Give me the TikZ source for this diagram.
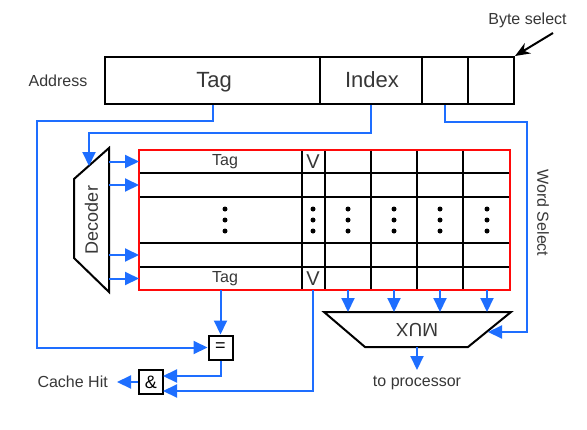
\documentclass[tikz,border=0pt]{standalone}
\usepackage{fontspec}
\setmainfont{Liberation Sans}
\usetikzlibrary{arrows.meta,calc}
\definecolor{wire}{RGB}{30,110,255}
\definecolor{arrred}{RGB}{255,10,10}
\definecolor{txt}{RGB}{55,55,55}
\begin{document}
\begin{tikzpicture}[x=1pt,y=-1pt,
  wirestyle/.style={draw=wire, line width=2pt},
  warrow/.style={wirestyle, -{Triangle[length=14pt,width=13pt]}},
  field/.style={draw, line width=2pt, minimum height=47pt, inner sep=0pt},
  fieldtext/.style={font=\fontsize{22}{26}\selectfont, text=txt, inner sep=0pt, anchor=base},
  lbl/.style={font=\fontsize{16}{19}\selectfont, text=txt, inner sep=0pt},
  cell/.style={font=\fontsize{16}{19}\selectfont, text=txt, inner sep=0pt},
  vcell/.style={font=\fontsize{20}{23}\selectfont, text=txt, inner sep=0pt},
  gridline/.style={draw=black, line width=2pt},
  gate/.style={draw, line width=2pt, minimum size=24pt, inner sep=0pt, fill=white, font=\fontsize{18}{21}\selectfont, text=black},
  shapeline/.style={draw=black, line width=2pt, line join=miter}
]
\useasboundingbox (0,0) rectangle (587,429);

% address
\node[field, minimum width=215pt] (tag) at (212.5,80.5) {};
\node[field, minimum width=102pt] (index) at (371,80.5) {};
\node[field, minimum width=46pt] (word) at (445,80.5) {};
\node[field, minimum width=46pt] (byte) at (491,80.5) {};
\node[fieldtext] (tagtxt) at (214,87.5) {Tag};
\node[fieldtext] (indextxt) at (372,87.5) {Index};
\node[lbl, anchor=base] (addr) at (58,86) {Address};
\node[lbl] (bsel) at (527.5,20) {Byte select};
\coordinate (bs0) at (553,33);
\draw[line width=2pt, -{Stealth[length=15pt,width=12pt]}] (bs0) -- (byte.north east);

% cache array
\foreach \y in {173,197,243,267} \draw[gridline] (139,\y) -- (510,\y);
\foreach \x in {302,325,371,417,463} \draw[gridline] (\x,150) -- (\x,290);
\draw[draw=arrred, line width=2pt] (139,150) rectangle (510,290);
\foreach \x in {225,313,348,394,440,487}
  \foreach \y in {209,220,231} \fill (\x,\y) circle (2.5pt);
\node[cell] (tagtop) at (225,161.5) {Tag};
\node[vcell] (vtop) at (313,161.5) {V};
\node[cell] (tagbot) at (225,278.5) {Tag};
\node[vcell] (vbot) at (313,278.5) {V};

% decoder
\draw[shapeline, fill=white] (109,148) -- (109,292) -- (74,258) -- (74,179) -- cycle;
\node[rotate=90, font=\fontsize{18}{21}\selectfont, text=txt, inner sep=0pt] (dec) at (91.5,220) {Decoder};
\foreach \y/\n in {161.5/1,185/2,255/4,278.5/5} {
  \coordinate (d\n) at (109,\y);
  \coordinate (r\n) at (139,\y);
  \draw[warrow] (d\n) -- (r\n);
}
\coordinate (decin) at (89,166);
\draw[warrow] (index.south) |- (89,133) -- (decin);

% comparator and and-gate
\node[gate] (eq) at (220.5,347.5) {=};
\node[gate] (amp) at (151,382) {\&};
\coordinate (tagout) at (220.5,290);
\coordinate (vout) at (313,290);
\draw[warrow] (tagout) -- (eq.north);
\draw[warrow] (tag.south) |- (37,121) |- (eq.west);
\coordinate (ampin1) at (163,376);
\coordinate (ampin2) at (163,391);
\draw[warrow] (eq.south) |- (ampin1);
\draw[warrow] (vout) |- (ampin2);
\node[lbl, anchor=east] (hit) at (108,382) {Cache Hit};
\draw[warrow] (amp.west) -- ($(hit.east)+(9,0)$);

% mux
\draw[shapeline] (324,312) -- (511,312) -- (468,347) -- (365,347) -- cycle;
\node[rotate=180, font=\fontsize{19}{22}\selectfont, text=txt, inner sep=0pt] (mux) at (417,330) {MUX};
\foreach \x in {348,394,440,487} \draw[warrow] (\x,290) -- (\x,312);
\coordinate (muxout) at (417,347);
\node[lbl] (proc) at (417,383) {to processor};
\draw[warrow] (muxout) -- (417,370);
\coordinate (muxsel) at (488,332);
\draw[warrow] (word.south) |- (527,122) |- (muxsel);
\node[lbl, rotate=-90] (wsel) at (543,213) {Word Select};
\end{tikzpicture}
\end{document}
